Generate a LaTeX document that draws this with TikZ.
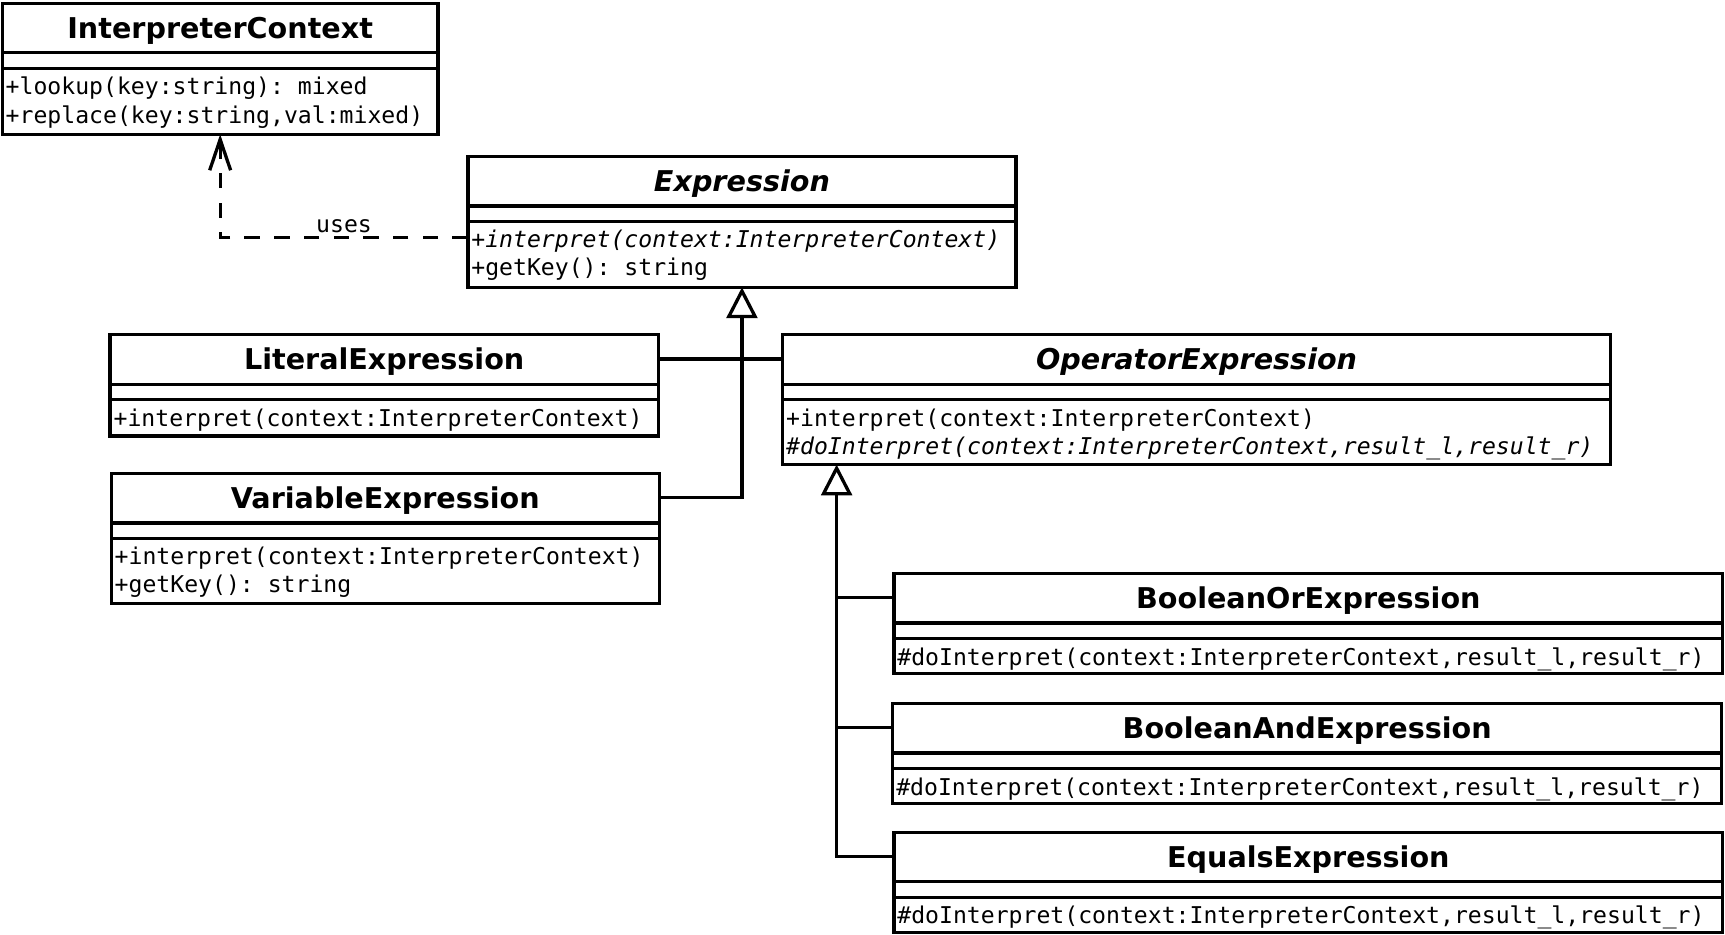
\documentclass[tikz,border=0pt]{standalone}
\usepackage{fontspec}
\setmainfont{DejaVu Sans}
\setmonofont{DejaVu Sans Mono}
\usetikzlibrary{arrows.meta,calc}

\tikzset{
  classbox/.style={draw, line width=3pt, fill=white, anchor=north west, inner sep=0pt, outer sep=0pt},
  classtitle/.style={font=\fontsize{26}{30}\selectfont\bfseries, anchor=base, inner sep=0pt},
  classops/.style={font=\fontsize{21}{25.5}\selectfont\ttfamily, align=left, anchor=north west, inner sep=0pt},
  classline/.style={line width=3pt},
  assoc/.style={line width=3pt},
  inherit/.style={line width=3pt, -{Triangle[open, length=28pt, width=28pt]}},
  uses/.style={line width=3pt, dash pattern=on 14pt off 13pt, -{Straight Barb[length=28pt, width=19pt]}},
  usestext/.style={font=\fontsize{21}{25}\selectfont\ttfamily, inner sep=0pt},
}

% name, x, y, width, height, title, operations
\newcommand{\umlclass}[7]{%
  \node[classbox, minimum width=#4pt, minimum height=#5pt] (#1) at (#2,-#3) {};
  \coordinate (#1-head) at ($(#1.north)+(0,-22)$);
  \node[classtitle] (#1-title) at ($(#1.north)+(0,-32)$) {#6};
  \draw[classline] ($(#1.north west)+(0,-45)$) -- ($(#1.north east)+(0,-45)$);
  \draw[classline] ($(#1.north west)+(0,-59)$) -- ($(#1.north east)+(0,-59)$);
  \node[classops] (#1-ops) at ($(#1.north west)+(3,-67)$) {#7};
}

\begin{document}
\begin{tikzpicture}[x=1pt,y=1pt]
  \useasboundingbox (0,0) rectangle (1567,-848.5);
  % classes
  \umlclass{ic}{2}{3}{396}{119}{InterpreterContext}{+lookup(key:string): mixed\\+replace(key:string,val:mixed)}
  \umlclass{expr}{425}{142}{498}{119}{\itshape Expression}{{\itshape +interpret(context:InterpreterContext)}\\+getKey(): string}
  \umlclass{lit}{100}{304}{498}{92}{LiteralExpression}{+interpret(context:InterpreterContext)}
  \umlclass{var}{101}{430}{498}{118}{VariableExpression}{+interpret(context:InterpreterContext)\\+getKey(): string}
  \umlclass{op}{711}{304}{752}{118}{\itshape OperatorExpression}{+interpret(context:InterpreterContext)\\{\itshape \#doInterpret(context:InterpreterContext,result\_l,result\_r)}}
  \umlclass{bor}{812}{521}{753}{91}{BooleanOrExpression}{\#doInterpret(context:InterpreterContext,result\_l,result\_r)}
  \umlclass{band}{811}{639}{753}{91}{BooleanAndExpression}{\#doInterpret(context:InterpreterContext,result\_l,result\_r)}
  \umlclass{eq}{812}{756}{753}{91}{EqualsExpression}{\#doInterpret(context:InterpreterContext,result\_l,result\_r)}

  % connectors
  \coordinate (usesstart) at ($(expr.north west)+(0,-74)$);
  \coordinate (optip) at ($(op.south west)+(49,0)$);
  \draw[uses] (usesstart) -| node[pos=0.25, above=3pt, usestext] (usesl) {uses} (ic.south);
  \draw[assoc] (lit-head -| lit.east) -- (op-head -| op.west);
  \draw[inherit] (var-head -| var.east) -| (expr.south);
  \draw[inherit] (eq-head -| eq.west) -| (optip);
  \draw[assoc] (bor-head -| bor.west) -- (bor-head -| optip);
  \draw[assoc] (band-head -| band.west) -- (band-head -| optip);
\end{tikzpicture}
\end{document}
